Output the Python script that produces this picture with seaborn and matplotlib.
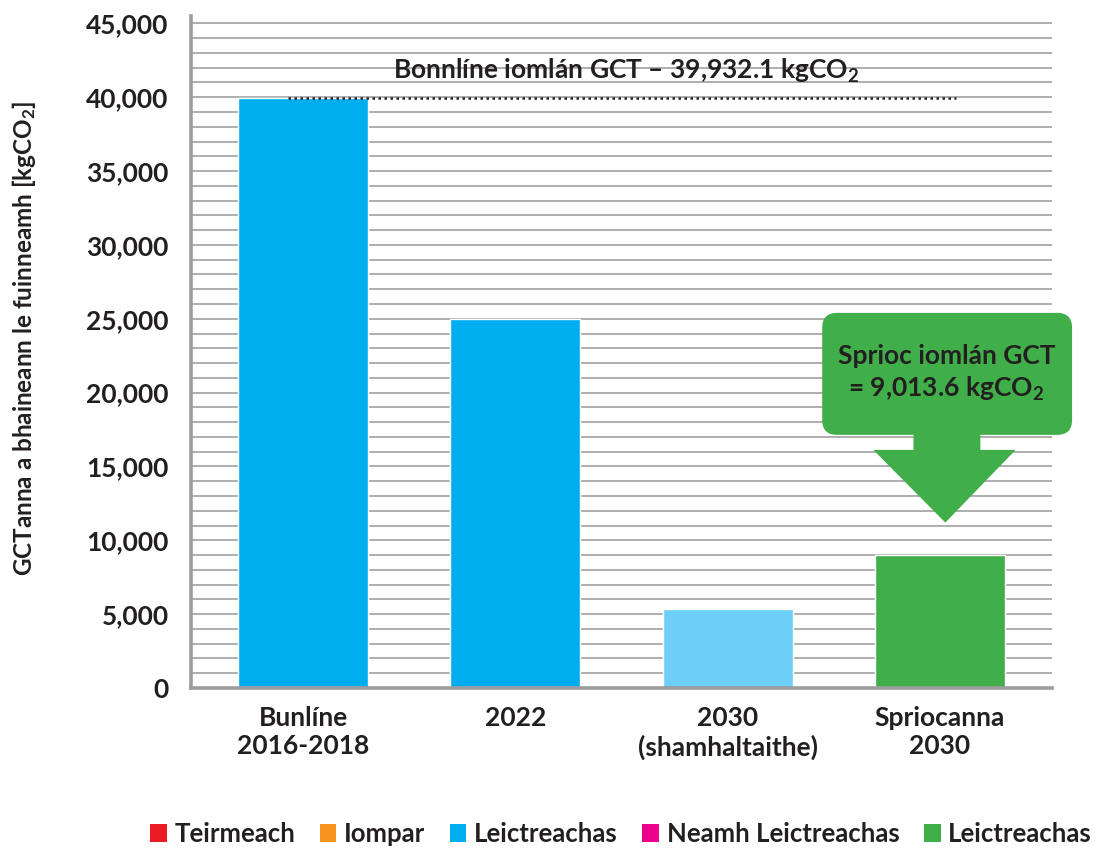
import matplotlib
matplotlib.use("Agg")
import matplotlib.pyplot as plt
import seaborn as sns
import pandas as pd
from matplotlib.patches import FancyBboxPatch, Polygon, Patch
from matplotlib.ticker import FuncFormatter, MultipleLocator

# --- data ---
categories = ["Bunlíne\n2016-2018", "2022", "2030\n(shamhaltaithe)", "Spriocanna\n2030"]
emissions = [39932.1, 25000, 5350, 9013.6]
bar_colors = ["#00aeef", "#00aeef", "#6dcff6", "#40ae49"]

legend_labels = ["Teirmeach", "Iompar", "Leictreachas", "Neamh Leictreachas", "Leictreachas"]
legend_colors = ["#ed1c24", "#f7941d", "#00aeef", "#ec008c", "#40ae49"]

baseline_total = 39932.1
target_total = 9013.6

TXT = "#231f20"
GRID = "#a8a8a8"
FS = 19

sns.set_style("white")
plt.rcParams["font.family"] = ["Lato", "DejaVu Sans"]
plt.rcParams["font.weight"] = "bold"
plt.rcParams["mathtext.fontset"] = "custom"
plt.rcParams["mathtext.rm"] = "Lato:bold"

df = pd.DataFrame({"cat": categories, "val": emissions})

fig = plt.figure(figsize=(11.04, 8.48), dpi=100)
ax = fig.add_axes([0.173, 0.1887, 0.780, 0.7924])

sns.barplot(data=df, x="cat", y="val", hue="cat", palette=bar_colors,
            width=0.612, legend=False, ax=ax, saturation=1, zorder=3)

ax.set_xlim(-0.528, 3.528)
ax.set_ylim(0, 45500)
ax.yaxis.set_major_locator(MultipleLocator(5000))
ax.yaxis.set_major_formatter(FuncFormatter(lambda v, p: f"{int(v):,}"))
ax.set_yticks([v for v in range(0, 46000, 1000)], minor=True)
ax.grid(axis="y", which="both", color=GRID, lw=1.3)
ax.set_axisbelow(True)

for s in ["top", "right"]:
    ax.spines[s].set_visible(False)
for s in ["left", "bottom"]:
    ax.spines[s].set_color("#9d9d9d")
    ax.spines[s].set_linewidth(2.6)
    ax.spines[s].set_zorder(4)

ax.tick_params(axis="y", which="both", length=0, pad=16, labelsize=FS, labelcolor=TXT)
ax.tick_params(axis="x", length=0, pad=13, labelsize=FS, labelcolor=TXT)
for lab in ax.get_xticklabels():
    lab.set_linespacing(1.22)

ax.set_xlabel("")
ax.set_ylabel(r"GCTanna a bhaineann le fuinneamh [kgCO$\mathregular{_2}$]",
              fontsize=17.5, fontweight="bold", color=TXT, va="center")
ax.yaxis.set_label_coords(-0.194, 0.52)

# baseline dotted line + label
ax.plot([-0.07, 3.076], [baseline_total, baseline_total], color=TXT,
        lw=1.8, ls=(0, (1, 1.4)), zorder=5)
ax.text(1.52, 41800, r"Bonnlíne iomlán GCT – 39,932.1 kgCO$\mathregular{_2}$",
        ha="center", va="center", fontsize=FS, fontweight="bold", color=TXT, zorder=6)

# target callout (box + arrow)
green = "#40ae49"
box = FancyBboxPatch((2.445, 17140), 3.622 - 2.445, 25400 - 17140,
                     boxstyle="round,pad=0,rounding_size=0.07",
                     mutation_aspect=14400, fc=green, ec="none",
                     clip_on=False, zorder=6)
ax.add_patch(box)
arrow = Polygon([(2.875, 17300), (3.19, 17300), (3.19, 16120), (3.356, 16120),
                 (3.025, 11200), (2.686, 16120), (2.875, 16120)],
                closed=True, fc=green, ec="none", clip_on=False, zorder=6)
ax.add_patch(arrow)
ax.text(3.03, 21300, "Sprioc iomlán GCT\n" + r"= 9,013.6 kgCO$\mathregular{_2}$",
        ha="center", va="center", fontsize=FS, fontweight="bold", color=TXT,
        linespacing=1.3, zorder=7)

# legend
handles = [Patch(facecolor=c, edgecolor="none") for c in legend_colors]
fig.legend(handles, legend_labels, loc="center", bbox_to_anchor=(0.5625, 0.0165),
           ncol=5, frameon=False, fontsize=18.5, handlelength=0.65, handleheight=0.65,
           handletextpad=0.3, columnspacing=0.95, labelcolor=TXT)

fig.savefig("out.png", dpi=100)
